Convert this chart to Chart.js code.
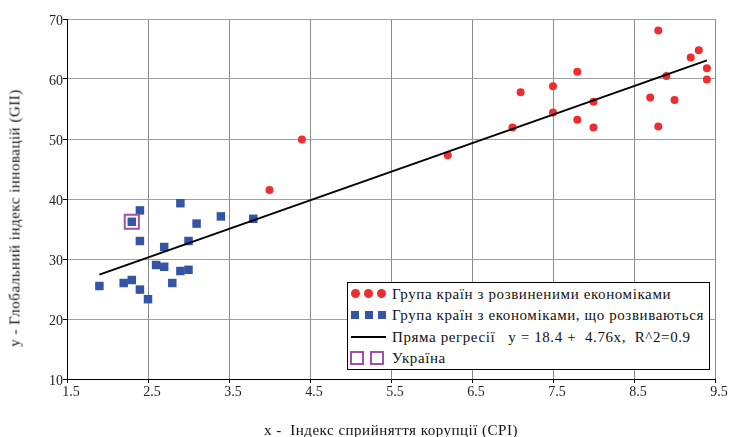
<!DOCTYPE html>
<html>
<head>
<meta charset="utf-8">
<script src="https://cdn.jsdelivr.net/npm/chart.js@4.4.1/dist/chart.umd.min.js"></script>
<style>
  body { margin: 0; background: #fff; }
  #wrap { position: relative; width: 732px; height: 437px; font-family: 'Liberation Serif', 'Times New Roman', serif; color: #111; }
  #chart { position: absolute; left: 0; top: 0; }
  .axTitle { position: absolute; white-space: pre; font-size: 15px; letter-spacing: 0.5px; transform: translate(-50%, -50%); }
  #yTitle { left: 15px; top: 218px; transform: translate(-50%, -50%) rotate(-90deg); }
  #xTitle { left: 391px; top: 430px; }
  #legend { position: absolute; left: 347px; top: 282px; width: 363px; height: 88px; box-sizing: border-box;
            border: 1px solid #000; background: #fff; font-size: 15px; letter-spacing: 0.6px; }
  .row { position: relative; height: 21.5px; }
  .row .txt { position: absolute; left: 44px; top: 50%; transform: translateY(-50%); white-space: pre; }
  .mk { position: absolute; top: 50%; box-sizing: border-box; }
  .dot { width: 9px; height: 9px; margin-top: -4.5px; border-radius: 50%; background: #ee2e2e; }
  .sq { width: 8px; height: 8px; margin-top: -4px; background: #3454a4; }
  .ln { width: 35px; height: 2px; margin-top: -1px; background: #000; }
  .ua { width: 14px; height: 14px; margin-top: -7px; border: 2px solid #a050a8; }
</style>
</head>
<body>
<div id="wrap">
  <canvas id="chart" width="732" height="437"></canvas>
  <div class="axTitle" id="yTitle">y - Глобальний індекс інновацій (GII)</div>
  <div class="axTitle" id="xTitle">x -  Індекс сприйняття корупції (CPI)</div>
  <div id="legend">
    <div class="row">
      <span class="mk dot" style="left:3px"></span><span class="mk dot" style="left:16px"></span><span class="mk dot" style="left:29px"></span>
      <span class="txt">Група країн з розвиненими економіками</span>
    </div>
    <div class="row">
      <span class="mk sq" style="left:3px"></span><span class="mk sq" style="left:17px"></span><span class="mk sq" style="left:30px"></span>
      <span class="txt">Група країн з економіками, що розвиваються</span>
    </div>
    <div class="row">
      <span class="mk ln" style="left:3px"></span>
      <span class="txt">Пряма регресії   y = 18.4 +  4.76x,  R^2=0.9</span>
    </div>
    <div class="row">
      <span class="mk ua" style="left:2px"></span><span class="mk ua" style="left:22px"></span>
      <span class="txt">Україна</span>
    </div>
  </div>
</div>
<script>
// developed economies (red circles)
const devX = [7.0, 7.1, 7.5, 7.5, 7.8, 7.8, 8.0, 8.0, 8.8, 8.7, 8.8, 8.9, 9.0, 9.2, 9.3, 9.4, 9.4, 4.4, 4.0, 6.2];
const devY = [51.9, 57.8, 58.8, 54.4, 61.2, 53.2, 56.2, 51.9, 68.1, 56.9, 52.1, 60.5, 56.5, 63.6, 64.8, 61.8, 59.9, 49.9, 41.5, 47.3];

// developing economies (blue squares)
const emgX = [1.9, 2.2, 2.3, 2.4, 2.5, 2.4, 2.4, 2.3, 2.6, 2.7, 2.7, 2.8, 2.9, 2.9, 3.0, 3.0, 3.1, 3.4, 3.8];
const emgY = [25.5, 26.0, 26.5, 24.9, 23.3, 33.0, 38.1, 36.2, 29.0, 28.7, 32.0, 26.0, 39.3, 28.0, 28.2, 33.0, 35.9, 37.1, 36.7];

// Ukraine
const uaX = [2.3];
const uaY = [36.2];

// regression line end points
const regX = [1.9, 9.4];
const regY = [27.4, 63.1];

const xTicks = [1.5, 2.5, 3.5, 4.5, 5.5, 6.5, 7.5, 8.5, 9.5];
const yTicks = [10, 20, 30, 40, 50, 60, 70];

const pts = (xs, ys) => xs.map((x, i) => ({ x: x, y: ys[i] }));
const tickFont = { family: "'Liberation Serif', 'Times New Roman', serif", size: 14 };

new Chart(document.getElementById('chart'), {
  type: 'scatter',
  data: {
    datasets: [
      { label: 'Україна', data: pts(uaX, uaY), pointStyle: 'rect', pointRadius: 10,
        backgroundColor: 'rgba(0,0,0,0)', borderColor: '#a050a8', borderWidth: 2, order: 0 },
      { label: 'Пряма регресії', type: 'line', data: pts(regX, regY), borderColor: '#000', borderWidth: 2,
        pointRadius: 0, fill: false, order: 1 },
      { label: 'Група країн з розвиненими економіками', data: pts(devX, devY), pointStyle: 'circle',
        pointRadius: 4, backgroundColor: '#ee2e2e', borderWidth: 0, order: 2 },
      { label: 'Група країн з економіками, що розвиваються', data: pts(emgX, emgY), pointStyle: 'rect',
        pointRadius: 6, backgroundColor: '#3454a4', borderWidth: 0, order: 3 }
    ]
  },
  options: {
    responsive: false,
    animation: false,
    layout: { padding: { top: 19, right: 17, left: 0, bottom: 0 } },
    plugins: { legend: { display: false }, tooltip: { enabled: false } },
    scales: {
      x: {
        type: 'linear', min: 1.5, max: 9.5,
        afterBuildTicks: s => { s.ticks = xTicks.map(v => ({ value: v })); },
        afterFit: s => { s.height = 58; },
        grid: { color: '#8a8a8a', tickColor: '#000', tickLength: 4 },
        border: { color: '#000' },
        ticks: { font: tickFont, color: '#222', padding: 1, labelOffset: 4, maxRotation: 0, autoSkip: false,
                 callback: v => v.toFixed(1) }
      },
      y: {
        type: 'linear', min: 10, max: 70,
        afterBuildTicks: s => { s.ticks = yTicks.map(v => ({ value: v })); },
        afterFit: s => { s.width = 67; },
        grid: { color: '#a0a0a0', tickColor: '#000', tickLength: 4 },
        border: { color: '#000' },
        ticks: { font: tickFont, color: '#222', padding: 0, labelOffset: 2, autoSkip: false,
                 callback: v => String(v) }
      }
    }
  }
});
</script>
</body>
</html>
